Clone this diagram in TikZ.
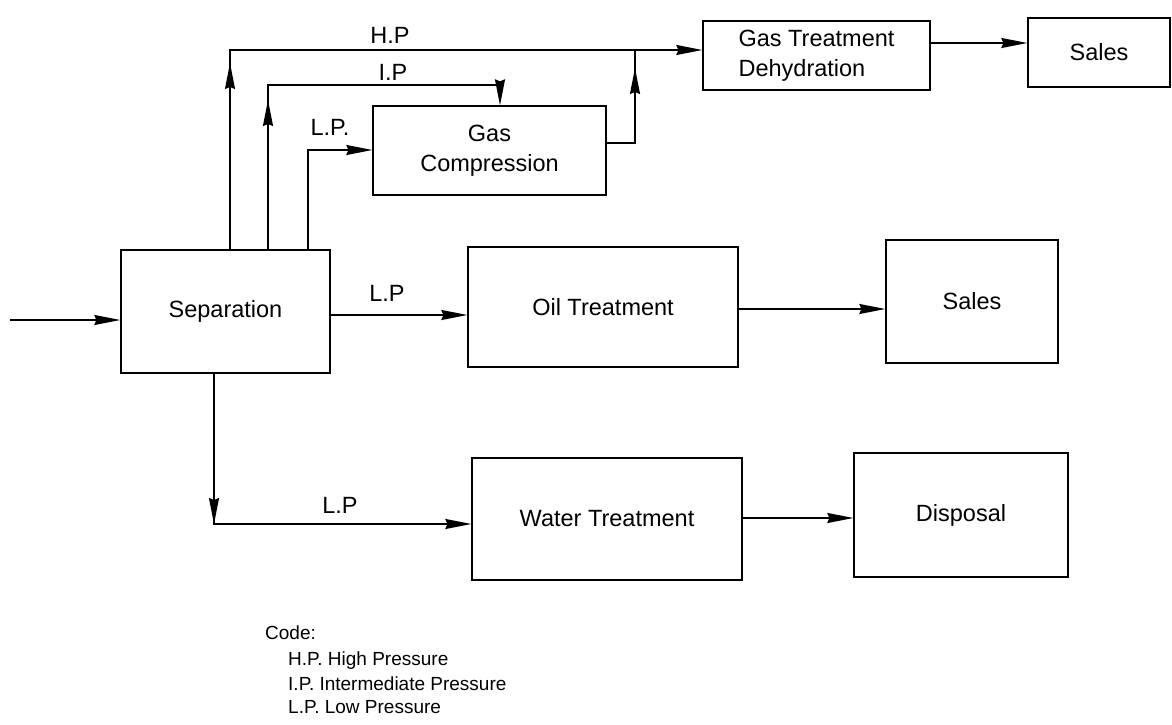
\documentclass[tikz,border=0pt]{standalone}
\usepackage{fontspec}
\setmainfont{Liberation Sans}
\usetikzlibrary{arrows.meta}
\begin{document}
\begin{tikzpicture}[x=1pt,y=-1pt,
  box/.style={draw,line width=1.3pt,inner sep=0pt,font=\fontsize{23.5}{30}\selectfont},
  lbl/.style={inner sep=0pt,font=\fontsize{23.5}{28}\selectfont},
  leg/.style={inner sep=0pt,anchor=west,font=\fontsize{19}{22}\selectfont},
  conn/.style={line width=1.4pt},
  arr/.style={conn,-{Stealth[length=26pt,width=10pt,inset=2pt]}}]
\useasboundingbox (0,0) rectangle (1172,725);
% boxes
\node[box,minimum width=209pt,minimum height=123pt] (sep) at (225.5,311.5) {Separation};
\node[box,minimum width=233pt,minimum height=89pt,align=center] (gc) at (489.5,150.5) {Gas\\Compression};
\node[box,minimum width=227pt,minimum height=69pt,align=left] (gt) at (816.5,55.5) {Gas Treatment\\Dehydration};
\node[box,minimum width=142pt,minimum height=69pt] (sales1) at (1099,52.5) {Sales};
\node[box,minimum width=270pt,minimum height=120pt] (ot) at (603,307) {Oil Treatment};
\node[box,minimum width=172pt,minimum height=123pt] (sales2) at (972,301.5) {Sales};
\node[box,minimum width=270pt,minimum height=122pt] (wt) at (607,519) {Water Treatment};
\node[box,minimum width=214pt,minimum height=124pt] (disp) at (961,515) {Disposal};
% helper coordinates
\coordinate (in) at (10,320);
\coordinate (hp1) at (230,63);
\coordinate (hp2) at (230,50);
\coordinate (ip1) at (268,100);
\coordinate (ip2) at (268,85);
\coordinate (ip3) at (500,85);
\coordinate (lp1) at (308,150);
\coordinate (go1) at (635,143);
\coordinate (go2) at (635,68);
\coordinate (go3) at (635,50);
\coordinate (wc) at (214,524);
% connectors
\draw[arr] (in) -- (in -| sep.west);
\draw[arr] (sep.north -| hp1) -- (hp2) -- (gt.west |- hp2);
\draw[arr] (sep.north -| hp1) -- (hp1);
\draw[arr] (sep.north -| ip1) -- (ip2) -- (ip3) -- (gc.north -| ip3);
\draw[arr] (sep.north -| ip1) -- (ip1);
\draw[arr] (sep.north -| lp1) -- (lp1) -- (gc.west |- lp1);
\draw[conn] (gc.east |- go1) -- (go1) -- (go3);
\draw[arr] (gc.east |- go1) -- (go1) -- (go2);
\draw[arr] (gt.east |- {(0,43)}) -- (sales1.west |- {(0,43)});
\draw[arr] (sep.east |- {(0,315)}) -- (ot.west |- {(0,315)});
\draw[arr] (ot.east |- {(0,309)}) -- (sales2.west |- {(0,309)});
\draw[arr] (sep.south -| wc) -- (wc) -- (wt.west |- wc);
\draw[arr] (sep.south -| wc) -- (wc);
\draw[arr] (wt.east |- {(0,518)}) -- (disp.west |- {(0,518)});
% labels
\node[lbl] (hpL) at (390,35) {H.P};
\node[lbl] (ipL) at (393,72) {I.P};
\node[lbl] (lpL1) at (330,127) {L.P.};
\node[lbl] (lpL2) at (387,293) {L.P};
\node[lbl] (lpL3) at (340,505) {L.P};
% legend
\node[leg] (code) at (265,633) {Code:};
\node[leg] (leg1) at (288,661) {H.P. High Pressure};
\node[leg] (leg2) at (288,684) {I.P. Intermediate Pressure};
\node[leg] (leg3) at (288,707) {L.P. Low Pressure};
\end{tikzpicture}
\end{document}
